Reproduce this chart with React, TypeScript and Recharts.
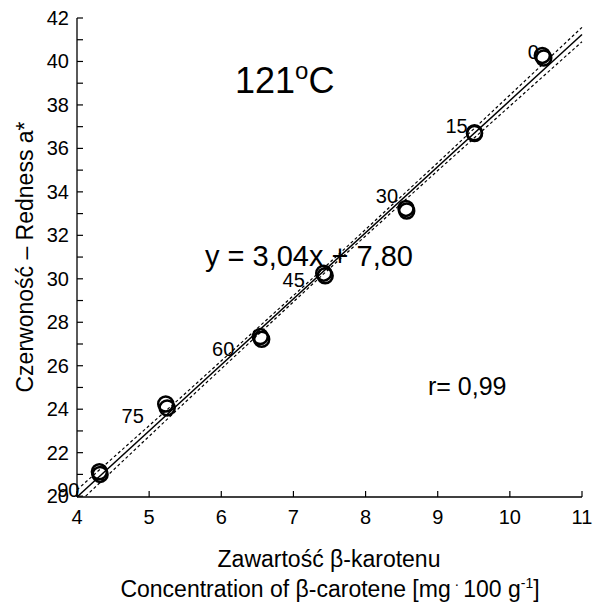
import React from 'react'
import { ScatterChart, Scatter, XAxis, YAxis } from 'recharts'

const FONT = 'Arial, "Liberation Sans", sans-serif'

// time of heating [min] for each sample group
const times = [0, 15, 30, 45, 60, 75, 90]
// replicate A
const caroteneA = [10.45, 9.51, 8.56, 7.42, 6.54, 5.23, 4.31]
const rednessA = [40.28, 36.72, 33.24, 30.26, 27.34, 24.24, 21.12]
// replicate B
const caroteneB = [10.47, 9.51, 8.57, 7.44, 6.56, 5.25, 4.32]
const rednessB = [40.16, 36.68, 33.12, 30.14, 27.22, 24.06, 21.0]

// fitted line y = 3,04x + 7,80
const fitX = [4, 11]
const fitY = [19.96, 41.24]
// confidence band
const upperX = [4, 5.5, 7.4, 9, 11]
const upperY = [20.29, 24.72, 30.43, 35.34, 41.57]
const lowerX = [4.12, 5.5, 7.4, 9, 11]
const lowerY = [20.0, 24.32, 30.17, 34.98, 40.91]

const xTicks = [4, 5, 6, 7, 8, 9, 10, 11]
const yTicks = [20, 21, 22, 23, 24, 25, 26, 27, 28, 29, 30, 31, 32, 33, 34, 35, 36, 37, 38, 39, 40, 41, 42]
const yRightTicks = [20, 22, 24, 26, 28, 30, 32, 34, 36, 38, 40, 42]

// label offsets (px) relative to the point, keyed by time
const labelOffset: Record<number, [number, number]> = {
  0: [-9, -3],
  15: [-18, -7],
  30: [-19, -12],
  45: [-30, 7],
  60: [-37, 12],
  75: [-33, 12],
  90: [-31, 18],
}

const pointsA = times.map((t, i) => ({ time: t, x: caroteneA[i], y: rednessA[i] }))
const pointsB = times.map((t, i) => ({ time: t, x: caroteneB[i], y: rednessB[i] }))
const fitLine = fitX.map((x, i) => ({ x, y: fitY[i] }))
const upperBand = upperX.map((x, i) => ({ x, y: upperY[i] }))
const lowerBand = lowerX.map((x, i) => ({ x, y: lowerY[i] }))

const AXIS = { stroke: '#000', strokeWidth: 1.3 }

const BottomTick = ({ x, y, payload }: any) => (
  <g>
    <line x1={x} x2={x} y1={y} y2={y - 6} stroke="#000" strokeWidth={1.2} />
    <text x={x} y={y + 27} textAnchor="middle" fontSize={20} fontFamily={FONT} fill="#000">
      {payload.value}
    </text>
  </g>
)

const TopTick = ({ x, y }: any) => (
  <line x1={x} x2={x} y1={y} y2={y + 6} stroke="#000" strokeWidth={1.2} />
)

const LeftTick = ({ x, y, payload }: any) => (
  <g>
    <line x1={x} x2={x + 6} y1={y} y2={y} stroke="#000" strokeWidth={1.2} />
    {payload.value % 2 === 0 && (
      <text x={x - 8} y={y + 7} textAnchor="end" fontSize={20} fontFamily={FONT} fill="#000">
        {payload.value}
      </text>
    )}
  </g>
)

const RightTick = ({ x, y }: any) => (
  <line x1={x} x2={x - 6} y1={y} y2={y} stroke="#000" strokeWidth={1.2} />
)

const Ring = ({ cx, cy }: any) => (
  <circle cx={cx} cy={cy} r={7.5} fill="none" stroke="#000" strokeWidth={2.5} />
)

const RingWithLabel = ({ cx, cy, payload }: any) => {
  const [dx, dy] = labelOffset[payload.time] || [0, 0]
  return (
    <g>
      <circle cx={cx} cy={cy} r={7.5} fill="none" stroke="#000" strokeWidth={2.5} />
      <text
        x={cx + dx}
        y={cy + dy + 7}
        textAnchor="middle"
        fontSize={20}
        fontFamily={FONT}
        fill="#000"
      >
        {payload.time}
      </text>
    </g>
  )
}

const NoDot = () => <g />

export default function App() {
  return (
    <div style={{ position: 'absolute', left: 0, top: 0, width: 593, height: 603, background: '#fff' }}>
      <ScatterChart width={593} height={603} margin={{ top: 18, right: 11, bottom: 76, left: 0 }}>
        <XAxis
          xAxisId="x"
          dataKey="x"
          type="number"
          domain={[4, 11]}
          ticks={xTicks}
          interval={0}
          height={30}
          axisLine={AXIS}
          tickLine={false}
          tickSize={0}
          tickMargin={0}
          tick={<BottomTick />}
        />
        <XAxis
          xAxisId="top"
          orientation="top"
          type="number"
          domain={[4, 11]}
          ticks={xTicks}
          interval={0}
          height={0}
          axisLine={AXIS}
          tickLine={false}
          tickSize={0}
          tickMargin={0}
          tick={<TopTick />}
        />
        <YAxis
          yAxisId="y"
          dataKey="y"
          type="number"
          domain={[20, 42]}
          ticks={yTicks}
          interval={0}
          width={77}
          axisLine={AXIS}
          tickLine={false}
          tickSize={0}
          tickMargin={0}
          tick={<LeftTick />}
        />
        <YAxis
          yAxisId="r"
          orientation="right"
          type="number"
          domain={[20, 42]}
          ticks={yRightTicks}
          interval={0}
          width={0}
          axisLine={AXIS}
          tickLine={false}
          tickSize={0}
          tickMargin={0}
          tick={<RightTick />}
        />
        <Scatter
          xAxisId="x"
          yAxisId="y"
          data={upperBand}
          line={{ stroke: '#000', strokeWidth: 1.2, strokeDasharray: '3 2.5' }}
          lineType="joint"
          shape={<NoDot />}
          isAnimationActive={false}
        />
        <Scatter
          xAxisId="x"
          yAxisId="y"
          data={lowerBand}
          line={{ stroke: '#000', strokeWidth: 1.2, strokeDasharray: '3 2.5' }}
          lineType="joint"
          shape={<NoDot />}
          isAnimationActive={false}
        />
        <Scatter
          xAxisId="x"
          yAxisId="y"
          data={fitLine}
          line={{ stroke: '#000', strokeWidth: 1.5 }}
          lineType="joint"
          shape={<NoDot />}
          isAnimationActive={false}
        />
        <Scatter xAxisId="x" yAxisId="y" data={pointsB} shape={<Ring />} isAnimationActive={false} />
        <Scatter xAxisId="x" yAxisId="y" data={pointsA} shape={<RingWithLabel />} isAnimationActive={false} />
      </ScatterChart>
      <svg
        width={593}
        height={603}
        style={{ position: 'absolute', left: 0, top: 0, pointerEvents: 'none' }}
        fontFamily={FONT}
        fill="#000"
      >
        <text x={235} y={93} fontSize={36}>
          121<tspan fontSize={24} dy={-14}>o</tspan>
          <tspan dy={14}>C</tspan>
        </text>
        <text x={205} y={266} fontSize={29}>
          y = 3,04x + 7,80
        </text>
        <text x={428} y={395} fontSize={25}>
          r= 0,99
        </text>
        <text x={329} y={567} fontSize={23} textAnchor="middle">
          Zawartość β-karotenu
        </text>
        <text x={330} y={597} fontSize={23} textAnchor="middle">
          Concentration of β-carotene [mg
          <tspan dy={-8} fontSize={14}> · </tspan>
          <tspan dy={8}>100 g</tspan>
          <tspan dy={-9} fontSize={14}>-1</tspan>
          <tspan dy={9}>]</tspan>
        </text>
        <text x={33} y={257} fontSize={23} textAnchor="middle" transform="rotate(-90 33 257)">
          Czerwoność – Redness a*
        </text>
      </svg>
    </div>
  )
}
